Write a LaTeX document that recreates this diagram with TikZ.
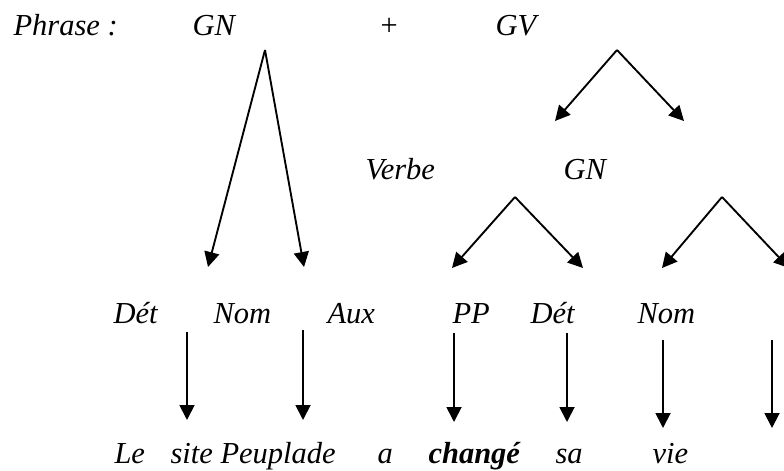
\documentclass[tikz,border=0pt]{standalone}
\usepackage{fontspec}
\setmainfont{Liberation Serif}
\usetikzlibrary{arrows.meta}

\begin{document}
\begin{tikzpicture}[x=0.4pt,y=-0.4pt,
	mot/.style={anchor=base west,inner sep=0pt,font=\fontsize{12.2}{15}\selectfont\itshape},
	fleche/.style={-{Triangle[length=6pt,width=6pt]},line width=0.75pt}]
	\useasboundingbox (0,0) rectangle (784,471);
	\node[mot] (phrase) at (13,36) {Phrase :};
	\node[mot] (gn) at (192,36) {GN};
	\node[mot] (plus) at (378,36) {+};
	\node[mot] (gv) at (495,36) {GV};
	\node[mot] (verbe) at (365,180) {Verbe};
	\node[mot] (gnb) at (563,180) {GN};
	\node[mot] (det) at (113,323) {Dét};
	\node[mot] (nom) at (213,323) {Nom};
	\node[mot] (aux) at (327,323) {Aux};
	\node[mot] (pp) at (452,323) {PP};
	\node[mot] (detb) at (530,323) {Dét};
	\node[mot] (nomb) at (637,323) {Nom};
	\node[mot] (le) at (114,463) {Le};
	\node[mot] (site) at (170,463) {site};
	\node[mot] (peuplade) at (220,463) {Peuplade};
	\node[mot] (a) at (377,463) {a};
	\node[mot,font=\fontsize{12.2}{15}\selectfont\bfseries\itshape] (change) at (428,463) {changé};
	\node[mot] (sa) at (555,463) {sa};
	\node[mot] (vie) at (652,463) {vie};
	\coordinate (gnH) at (265,50);
	\coordinate (gnG) at (208,267);
	\coordinate (gnD) at (304,267);
	\coordinate (gvH) at (617,50);
	\coordinate (gvG) at (555,121);
	\coordinate (gvD) at (684,121);
	\coordinate (gnbH) at (515,197);
	\coordinate (gnbG) at (452,268);
	\coordinate (gnbD) at (583,268);
	\coordinate (gncH) at (722,197);
	\coordinate (gncG) at (662,268);
	\coordinate (gncD) at (789,268);
	\draw[fleche] (gnH) -- (gnG);
	\draw[fleche] (gnH) -- (gnD);
	\draw[fleche] (gvH) -- (gvG);
	\draw[fleche] (gvH) -- (gvD);
	\draw[fleche] (gnbH) -- (gnbG);
	\draw[fleche] (gnbH) -- (gnbD);
	\draw[fleche] (gncH) -- (gncG);
	\draw[fleche] (gncH) -- (gncD);
	\coordinate (v1H) at (187,332);
	\coordinate (v1B) at (187,420);
	\coordinate (v2H) at (303,330);
	\coordinate (v2B) at (303,420);
	\coordinate (v3H) at (454,333);
	\coordinate (v3B) at (454,422);
	\coordinate (v4H) at (567,333);
	\coordinate (v4B) at (567,422);
	\coordinate (v5H) at (663,340);
	\coordinate (v5B) at (663,428);
	\coordinate (v6H) at (772,340);
	\coordinate (v6B) at (772,428);
	\draw[fleche] (v1H) -- (v1B);
	\draw[fleche] (v2H) -- (v2B);
	\draw[fleche] (v3H) -- (v3B);
	\draw[fleche] (v4H) -- (v4B);
	\draw[fleche] (v5H) -- (v5B);
	\draw[fleche] (v6H) -- (v6B);
\end{tikzpicture}
\end{document}
